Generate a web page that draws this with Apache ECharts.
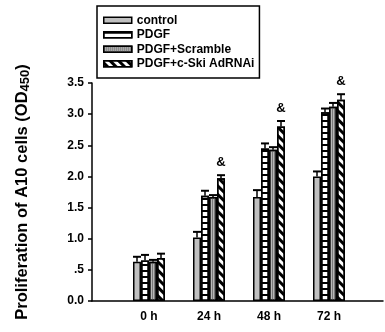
<!DOCTYPE html>
<html>
<head>
<meta charset="utf-8">
<script src="https://cdn.jsdelivr.net/npm/echarts@6/dist/echarts.min.js"></script>
<style>
  html, body { margin: 0; padding: 0; background: #fff; }
  #main { width: 385px; height: 332px; }
</style>
</head>
<body>
<div id="main"></div>
<script>
// proliferation of A10 cells, OD450
var timeLabels = ['0 h', '24 h', '48 h', '72 h'];
var yTickLabels = ['0.0', '.5', '1.0', '1.5', '2.0', '2.5', '3.0', '3.5'];
var seriesNames = ['control', 'PDGF', 'PDGF+Scramble', 'PDGF+c-Ski AdRNAi'];

var controlData = [0.63, 1.02, 1.67, 2.00];
var pdgfData = [0.65, 1.69, 2.45, 3.03];
var scrambleData = [0.63, 1.67, 2.43, 3.12];
var cskiData = [0.69, 1.97, 2.80, 3.23];

var controlErr = [0.08, 0.09, 0.11, 0.08];
var pdgfErr = [0.09, 0.08, 0.08, 0.06];
var scrambleErr = [0.03, 0.03, 0.04, 0.06];
var cskiErr = [0.07, 0.05, 0.09, 0.09];

var sigMarks = ['', '&', '&', '&'];

var allData = [controlData, pdgfData, scrambleData, cskiData];
var allErr = [controlErr, pdgfErr, scrambleErr, cskiErr];

var BAR_W = 8;
var FONT = 'Liberation Sans, Arial, sans-serif';

var myChart = echarts.init(document.getElementById('main'), null, { renderer: 'canvas' });

var styles = [
    { color: '#c0c0c0' },
    { color: '#ffffff', decal: { symbol: 'rect', color: '#000', dashArrayX: [1, 0], dashArrayY: [2, 4], rotation: 0 } },
    { color: '#b8b8b8', decal: { symbol: 'rect', color: '#7a7a7a', dashArrayX: [1, 1], dashArrayY: [1, 0], rotation: 0 } },
    { color: '#ffffff', decal: { symbol: 'rect', color: '#000', dashArrayX: [1, 0], dashArrayY: [3, 3], rotation: Math.PI / 4 } }
];

var series = [];
for (var i = 0; i < 4; i++) {
    series.push({
        name: seriesNames[i],
        type: 'bar',
        barWidth: BAR_W,
        barGap: '0%',
        data: allData[i].map(function (v, k) { return [k, v]; }),
        itemStyle: {
            color: styles[i].color,
            decal: styles[i].decal,
            borderColor: '#000',
            borderWidth: 1.5
        },
        z: 2
    });
}

// error bars (upper only) + significance marks
var errData = [];
for (var s = 0; s < 4; s++) {
    for (var k = 0; k < timeLabels.length; k++) {
        errData.push([k, allData[s][k], allErr[s][k], s]);
    }
}
series.push({
    type: 'custom',
    data: errData,
    z: 3,
    silent: true,
    renderItem: function (params, api) {
        var x = api.value(0), y = api.value(1), e = api.value(2), s = api.value(3);
        var base = api.coord([x, y]);
        var top = api.coord([x, y + e]);
        var cx = base[0] + (s - 1.5) * BAR_W;
        var children = [
            { type: 'line', shape: { x1: cx, y1: base[1], x2: cx, y2: top[1] }, style: { stroke: '#000', lineWidth: 1.5 } },
            { type: 'line', shape: { x1: cx - 4, y1: top[1], x2: cx + 4, y2: top[1] }, style: { stroke: '#000', lineWidth: 2 } }
        ];
        if (s === 3 && sigMarks[x]) {
            children.push({
                type: 'text',
                style: {
                    text: sigMarks[x], x: cx, y: top[1] - 6,
                    align: 'center', verticalAlign: 'bottom',
                    font: 'bold 13px ' + FONT, fill: '#000'
                }
            });
        }
        return { type: 'group', children: children };
    }
});

myChart.setOption({
    animation: false,
    backgroundColor: '#fff',
    legend: {
        orient: 'vertical',
        left: 97,
        top: 6,
        padding: [8, 5, 8, 6],
        itemGap: 2,
        itemWidth: 28,
        itemHeight: 6,
        icon: 'rect',
        borderColor: '#000',
        borderWidth: 1.5,
        data: seriesNames,
        textStyle: { fontFamily: FONT, fontWeight: 'bold', fontSize: 12, color: '#000', lineHeight: 12.5 },
        itemStyle: { borderColor: '#000', borderWidth: 1.5 }
    },
    grid: { left: 92, right: 2, top: 83, bottom: 31, containLabel: false },
    xAxis: {
        type: 'value',
        min: -0.95,
        max: 3.9,
        splitLine: { show: false },
        axisTick: { show: false },
        axisLine: { show: true, onZero: false, lineStyle: { color: '#000', width: 1.5 } },
        axisLabel: {
            margin: 10,
            customValues: [0, 1, 2, 3],
            fontFamily: FONT, fontWeight: 'bold', fontSize: 12, color: '#000',
            formatter: function (v) {
                var idx = Math.round(v);
                return timeLabels[idx] || '';
            }
        }
    },
    yAxis: {
        type: 'value',
        min: 0,
        max: 3.5,
        interval: 0.5,
        splitLine: { show: false },
        axisLine: { show: true, onZero: false, lineStyle: { color: '#000', width: 1.5 } },
        axisTick: { show: true, length: 4, lineStyle: { color: '#000', width: 1.5 } },
        axisLabel: {
            margin: 8,
            fontFamily: FONT, fontWeight: 'bold', fontSize: 12, color: '#000',
            formatter: function (v) { return yTickLabels[Math.round(v / 0.5)]; }
        },
        name: 'Proliferation of A10 cells (OD{sub|450})',
        nameLocation: 'middle',
        nameRotate: 90,
        nameGap: 60,
        nameTextStyle: {
            fontFamily: FONT, fontWeight: 'bold', fontSize: 16.5, color: '#000',
            rich: { sub: { fontFamily: FONT, fontWeight: 'bold', fontSize: 13, color: '#000', verticalAlign: 'bottom', padding: [7, 0, 0, 0] } }
        }
    },
    series: series
});
</script>
</body>
</html>
